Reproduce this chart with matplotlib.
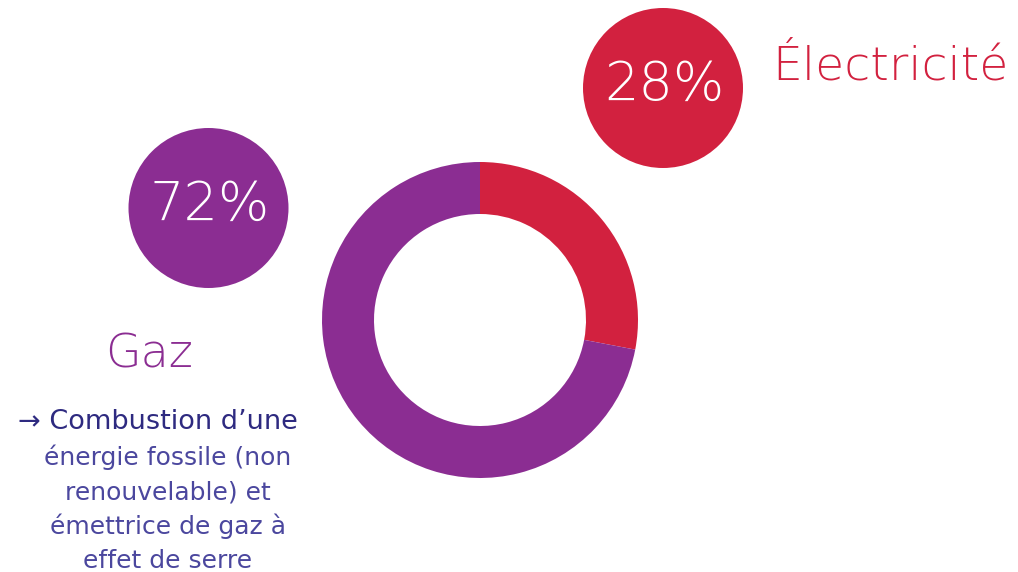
import matplotlib.pyplot as plt
from matplotlib.patches import Circle

# Parts de la consommation par source d'énergie
sources = ["Électricité", "Gaz"]
parts = [28, 72]
couleurs = ["#D2213F", "#8B2D92"]

texte_titre = "\u2192 Combustion d\u2019une"
texte_lignes = ["énergie fossile (non", "renouvelable) et",
                "émettrice de gaz à", "effet de serre"]

W, H = 1018, 572
fig = plt.figure(figsize=(W / 100, H / 100), dpi=100)
ax = fig.add_axes([0, 0, 1, 1])
ax.set_xlim(0, W)
ax.set_ylim(0, H)
ax.set_aspect("equal")
ax.axis("off")

# Anneau central
ax.pie(parts, colors=couleurs, startangle=90, counterclock=False,
       center=(480, H - 320), radius=158,
       wedgeprops=dict(width=52, linewidth=0))
ax.set_xlim(0, W)
ax.set_ylim(0, H)

fin = dict(family="DejaVu Sans", fontweight="light")

# Pastilles avec les pourcentages
bulles = {"Électricité": (663, H - 88), "Gaz": (208.5, H - 208)}
for nom, val, c in zip(sources, parts, couleurs):
    x, y = bulles[nom]
    ax.add_patch(Circle((x, y), 80, color=c, lw=0))
    ax.text(x + 1, y + 3, f"{val}%", color="white", fontsize=39,
            ha="center", va="center", **fin)

ax.text(772, H - 80, sources[0], color=couleurs[0], fontsize=34,
        ha="left", va="baseline", **fin)
ax.text(105, H - 367, sources[1], color=couleurs[1], fontsize=33,
        ha="left", va="baseline", **fin)

# Texte explicatif
ax.text(18, H - 429, texte_titre, color="#2E2A80", fontsize=19.5,
        family="DejaVu Sans", ha="left", va="baseline")
for i, ligne in enumerate(texte_lignes):
    ax.text(168, H - 465 - i * 34.3, ligne, color="#4B479E", fontsize=18,
            family="DejaVu Sans", ha="center", va="baseline")

fig.savefig("out.png", dpi=100, facecolor="white")
